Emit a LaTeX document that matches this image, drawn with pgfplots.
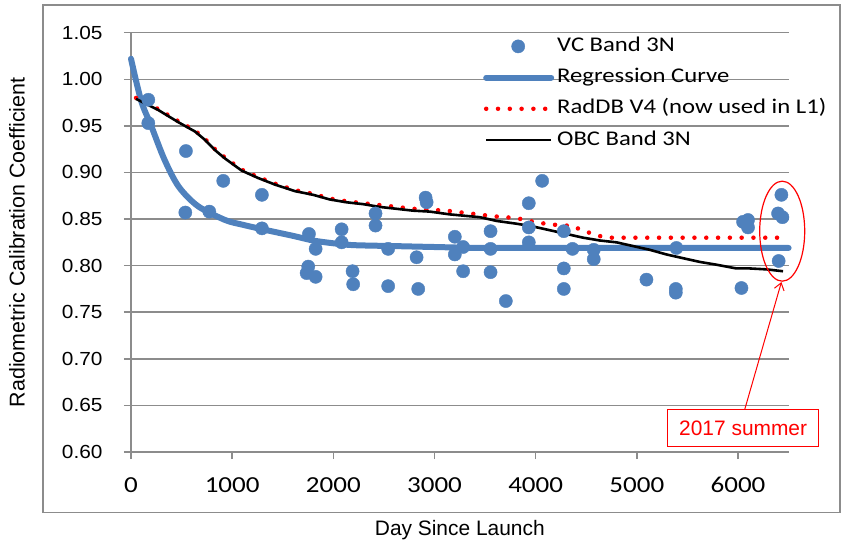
\documentclass[border=0pt]{standalone}
\usepackage{pgfplots}
\pgfplotsset{compat=1.18}
\usepackage{fontspec}
\setmainfont{Liberation Sans}
\newfontfamily\arialw[FakeStretch=1.1]{Liberation Sans}
\newfontfamily\calibri[FakeStretch=1.18]{Carlito}
\usetikzlibrary{arrows.meta}
\definecolor{vcblue}{RGB}{79,129,189}
\definecolor{gridgray}{RGB}{140,140,140}
\pgfplotsset{
    linelegend/.style={legend image code/.code={\draw[##1] (0bp,0bp) -- (65bp,0bp);}},
    marklegend/.style={legend image code/.code={\draw[mark repeat=2,mark phase=2,##1]
        plot coordinates {(0bp,0bp) (32bp,0bp) (65bp,0bp)};}},
}

\begin{document}
\begin{tikzpicture}
\useasboundingbox (-131bp,-91bp) rectangle (711bp,452bp);
% outer chart frame
\draw[gridgray, line width=1.3bp] (-88bp,-60.7bp) rectangle (709bp,447bp);
\begin{axis}[
    scale only axis,
    width=657.6bp, height=419.3bp,
    xmin=0, xmax=6500, ymin=0.6, ymax=1.05,
    xtick={0,1000,2000,3000,4000,5000,6000},
    ytick={0.6,0.65,0.7,0.75,0.8,0.85,0.9,0.95,1.0,1.05},
    axis lines*=left,
    axis line style={gridgray, line width=1.5bp},
    tick style={gridgray, line width=1.5bp},
    tick align=outside,
    major tick length=7bp,
    ymajorgrids,
    grid style={gridgray, line width=1.5bp},
    /pgf/number format/assume math mode=true,
    xticklabel style={font=\calibri\fontsize{23}{23}\selectfont, yshift=-15bp,
        /pgf/number format/set thousands separator={}},
    yticklabel style={font=\arialw\fontsize{19}{19}\selectfont, xshift=-18bp,
        /pgf/number format/.cd, fixed, fixed zerofill, precision=2},
    xlabel={Day Since Launch},
    ylabel={Radiometric Calibration Coefficient},
    xlabel style={font=\fontsize{21}{21}\selectfont,
        at={(axis description cs:0.5,-0.186)}, anchor=center},
    ylabel style={font=\fontsize{21.5}{21.5}\selectfont,
        at={(axis description cs:-0.1734,0.5)}, anchor=center},
    legend style={at={(axis description cs:0.5353,1.005)}, anchor=north west,
        draw=none, fill=none, inner sep=0pt,
        font=\calibri\fontsize{21}{21}\selectfont,
        nodes={text height=14bp, text depth=4bp, inner ysep=6.6bp, inner xsep=3bp}},
    legend cell align=left,
    linelegend,
    clip=false,
]

\addplot[only marks, mark=*, mark size=6.6bp, color=vcblue, marklegend]
coordinates {
(171,0.978) (171,0.953) (543,0.923) (537,0.857) (774,0.858) (912,0.891)
(1294,0.876) (1294,0.840)
(1759,0.834) (1825,0.818) (1752,0.799) (1736,0.792) (1825,0.788)
(2082,0.839) (2082,0.825) (2190,0.794) (2196,0.780)
(2417,0.856) (2417,0.843) (2542,0.818) (2542,0.778)
(2823,0.809) (2839,0.775) (2912,0.873) (2922,0.868)
(3201,0.831) (3283,0.820) (3201,0.812) (3283,0.794)
(3554,0.837) (3554,0.818) (3554,0.793) (3705,0.762)
(3932,0.867) (3932,0.841) (3932,0.825) (4064,0.891)
(4278,0.837) (4364,0.818) (4278,0.797) (4278,0.775)
(4574,0.817) (4574,0.807)
(5095,0.785) (5391,0.819) (5385,0.775) (5385,0.771)
(6034,0.776) (6050,0.847) (6099,0.849) (6099,0.841)
(6429,0.876) (6396,0.856) (6439,0.852) (6402,0.805)
};
\addlegendentry{VC Band 3N}

\addplot[vcblue, line width=6bp, line cap=round, smooth] coordinates {
(0,1.022) (100,0.977) (200,0.950) (330,0.914) (470,0.885) (660,0.864)
(930,0.849) (1100,0.844) (1300,0.839) (1600,0.832) (1800,0.827)
(2000,0.824) (2200,0.822) (2600,0.821) (3000,0.820) (3500,0.819)
(4500,0.819) (5500,0.819) (6500,0.819)
};
\addlegendentry{Regression Curve}

\addplot[red, line width=4.5bp, line cap=round, dash pattern=on 0bp off 11.8bp]
coordinates {
(50,0.980) (270,0.968) (467,0.955) (632,0.945) (731,0.936) (830,0.925)
(929,0.916) (1094,0.903) (1258,0.895) (1423,0.888) (1620,0.881)
(1801,0.877) (1966,0.872) (2131,0.869) (2295,0.867) (2460,0.865)
(2625,0.863) (2789,0.861) (2954,0.860) (3119,0.859) (3349,0.856)
(3580,0.853) (3811,0.851) (4024,0.846) (4255,0.843) (4360,0.843)
(4453,0.838) (4657,0.831) (4750,0.830) (6405,0.830)
};
\addlegendentry{RadDB V4 (now used in L1)}

\addplot[black, line width=2.6bp] coordinates {
(50,0.979) (270,0.967) (467,0.954) (632,0.944) (731,0.935) (830,0.924)
(929,0.915) (1094,0.902) (1258,0.894) (1423,0.887) (1620,0.880)
(1801,0.876) (1966,0.871) (2131,0.868) (2295,0.866) (2460,0.863)
(2625,0.861) (2789,0.859) (2954,0.858) (3152,0.855) (3251,0.854)
(3448,0.852) (3613,0.848) (3811,0.845) (3975,0.842) (4140,0.838)
(4305,0.834) (4469,0.830) (4634,0.827) (4799,0.825) (4963,0.821)
(5128,0.817) (5293,0.812) (5457,0.808) (5622,0.804) (5787,0.801)
(5984,0.797) (6116,0.797) (6281,0.796) (6445,0.794)
};
\addlegendentry{OBC Band 3N}

% 2017 summer annotation
\draw[red, line width=1.2bp] (axis cs:6437,0.837) ellipse [x radius=22.5bp, y radius=50bp];
\draw[red, line width=1bp, -{Straight Barb[length=7bp,width=10bp]}]
    (axis cs:6066,0.6455) -- (axis cs:6429,0.7824);
\node[draw=red, text=red, fill=white, line width=1bp, inner sep=0pt,
    minimum width=151bp, minimum height=37bp, font=\fontsize{21}{21}\selectfont]
    at (axis cs:6051,0.6255) {2017 summer};
\end{axis}
\end{tikzpicture}
\end{document}
